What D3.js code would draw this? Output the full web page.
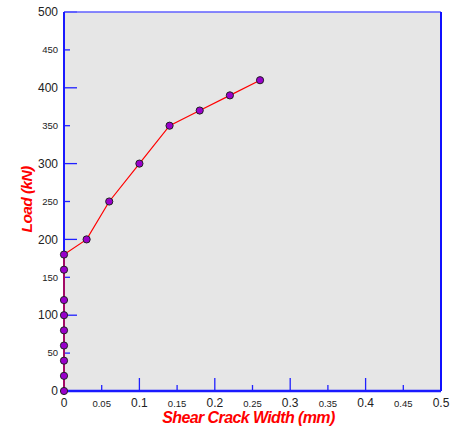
<!DOCTYPE html>
<html>
<head>
<meta charset="utf-8">
<script src="https://cdn.jsdelivr.net/npm/d3@7"></script>
<style>
  body { margin: 0; background: #fff; }
  text { font-family: "Liberation Sans", Arial, sans-serif; }
</style>
</head>
<body>
<div id="chart"></div>
<script>
// crack width (mm) vs load (kN)
var crackWidth = [0, 0, 0, 0, 0, 0, 0, 0, 0, 0.03, 0.06, 0.1, 0.14, 0.18, 0.22, 0.26];
var loadKN     = [0, 20, 40, 60, 80, 100, 120, 160, 180, 200, 250, 300, 350, 370, 390, 410];

var xTicks = [0, 0.05, 0.1, 0.15, 0.2, 0.25, 0.3, 0.35, 0.4, 0.45, 0.5];
var xTickLabels = ["0", "0.05", "0.1", "0.15", "0.2", "0.25", "0.3", "0.35", "0.4", "0.45", "0.5"];
var yTicks = [0, 50, 100, 150, 200, 250, 300, 350, 400, 450, 500];

var svgWidth = 452, svgHeight = 427;
var margin = { top: 12, right: 11, bottom: 36, left: 64 };
var width = svgWidth - margin.left - margin.right;
var height = svgHeight - margin.top - margin.bottom;

var svg = d3.select("#chart").append("svg")
  .attr("width", svgWidth)
  .attr("height", svgHeight);

var chartGroup = svg.append("g")
  .attr("transform", `translate(${margin.left}, ${margin.top})`);

var x = d3.scaleLinear().domain([0, 0.5]).range([0, width]);
var y = d3.scaleLinear().domain([0, 500]).range([height, 0]);

// plot background
chartGroup.append("rect")
  .attr("width", width)
  .attr("height", height)
  .attr("fill", "#e6e6e6");

// major/minor: every other tick is major
function isMajor(i) { return i % 2 === 0; }

// x ticks (inside)
chartGroup.selectAll(".xtick")
  .data(xTicks)
  .enter()
  .append("line")
  .attr("x1", d => x(d))
  .attr("x2", d => x(d))
  .attr("y1", height)
  .attr("y2", (d, i) => height - (isMajor(i) ? 13 : 6))
  .attr("stroke", "#2020ff")
  .attr("stroke-width", 1.3);

chartGroup.selectAll(".xlabel")
  .data(xTicks)
  .enter()
  .append("text")
  .attr("x", d => x(d))
  .attr("y", height + 16)
  .attr("text-anchor", "middle")
  .attr("font-size", (d, i) => isMajor(i) ? "12px" : "9.5px")
  .attr("fill", "#222")
  .text((d, i) => xTickLabels[i]);

// y ticks (inside)
chartGroup.selectAll(".ytick")
  .data(yTicks)
  .enter()
  .append("line")
  .attr("x1", 0)
  .attr("x2", (d, i) => isMajor(i) ? 13 : 6)
  .attr("y1", d => y(d))
  .attr("y2", d => y(d))
  .attr("stroke", "#2020ff")
  .attr("stroke-width", 1.3);

chartGroup.selectAll(".ylabel")
  .data(yTicks)
  .enter()
  .append("text")
  .attr("x", -6)
  .attr("y", d => y(d))
  .attr("dy", "0.35em")
  .attr("text-anchor", "end")
  .attr("font-size", (d, i) => isMajor(i) ? "12px" : "9.5px")
  .attr("fill", "#222")
  .text(d => d);

// frame
chartGroup.append("line").attr("x1", 0).attr("x2", width).attr("y1", 0).attr("y2", 0)
  .attr("stroke", "#6060ff").attr("stroke-width", 1.5);
chartGroup.append("line").attr("x1", width).attr("x2", width).attr("y1", 0).attr("y2", height)
  .attr("stroke", "#1010ff").attr("stroke-width", 2);
chartGroup.append("line").attr("x1", 0).attr("x2", width).attr("y1", height).attr("y2", height)
  .attr("stroke", "#1a1aff").attr("stroke-width", 2.5);
chartGroup.append("line").attr("x1", 0).attr("x2", 0).attr("y1", 0).attr("y2", height)
  .attr("stroke", "#1a1aff").attr("stroke-width", 2);

// data line
var pts = crackWidth.map((c, i) => [c, loadKN[i]]);
var line = d3.line().x(d => x(d[0])).y(d => y(d[1]));

chartGroup.append("path")
  .datum(pts)
  .attr("d", line)
  .attr("fill", "none")
  .attr("stroke", "#ff0000")
  .attr("stroke-width", 1.2);

chartGroup.selectAll("circle")
  .data(pts)
  .enter()
  .append("circle")
  .attr("cx", d => x(d[0]))
  .attr("cy", d => y(d[1]))
  .attr("r", 3.6)
  .attr("fill", "#9900cc")
  .attr("stroke", "#222")
  .attr("stroke-width", 1);

// axis titles
chartGroup.append("text")
  .attr("x", width / 2 - 4)
  .attr("y", height + 32)
  .attr("text-anchor", "middle")
  .attr("font-size", "16px")
  .attr("font-weight", "bold")
  .attr("font-style", "italic")
  .attr("letter-spacing", "-0.6px")
  .attr("fill", "#ff0000")
  .text("Shear Crack Width (mm)");

chartGroup.append("text")
  .attr("transform", `translate(${-margin.left + 32}, ${y(200) - 40}) rotate(-90)`)
  .attr("text-anchor", "middle")
  .attr("font-size", "15.5px")
  .attr("font-weight", "bold")
  .attr("font-style", "italic")
  .attr("letter-spacing", "-0.6px")
  .attr("fill", "#ff0000")
  .text("Load (kN)");
</script>
</body>
</html>
